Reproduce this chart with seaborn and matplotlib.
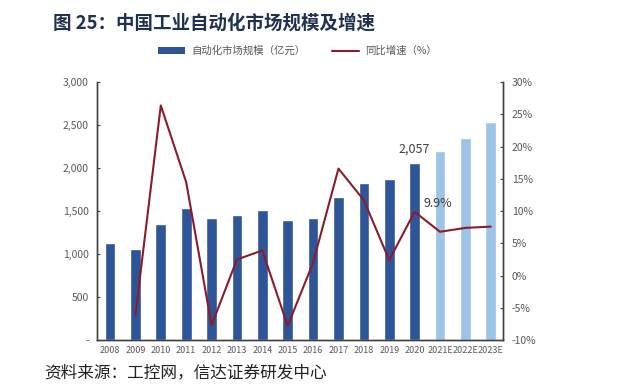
import numpy as np
import pandas as pd
import matplotlib
matplotlib.use("Agg")
import matplotlib.pyplot as plt
import seaborn as sns
from matplotlib.patches import Patch
from matplotlib.lines import Line2D
from matplotlib.ticker import FuncFormatter

# data
years = ["2008", "2009", "2010", "2011", "2012", "2013", "2014", "2015", "2016",
         "2017", "2018", "2019", "2020", "2021E", "2022E", "2023E"]
market_size = [1130, 1060, 1350, 1540, 1420, 1455, 1510, 1395, 1420,
               1660, 1833, 1876, 2057, 2198, 2352, 2535]
growth = [np.nan, -6.1, 26.4, 14.5, -7.7, 2.5, 3.9, -7.8, 2.0,
          16.6, 11.7, 2.4, 9.9, 6.8, 7.4, 7.6]
is_forecast = [y.endswith("E") for y in years]

sns.set_theme(style="white")
plt.rcParams["font.family"] = ["Noto Sans CJK SC", "DejaVu Sans"]

dark_blue = "#2e5597"
light_blue = "#9dc3e6"
line_red = "#8b1c2c"
grey = "#595959"

df = pd.DataFrame({"year": years, "size": market_size, "growth": growth,
                   "forecast": is_forecast})

fig = plt.figure(figsize=(6.2, 3.86), dpi=100)
ax = fig.add_axes([0.157, 0.119, 0.655, 0.668])

sns.barplot(data=df, x="year", y="size", hue="forecast",
            palette={False: dark_blue, True: light_blue}, saturation=1,
            width=0.42, dodge=False, legend=False, ax=ax)
ax.set_ylim(0, 3000)
ax.set_yticks(np.arange(0, 3001, 500))
ax.yaxis.set_major_formatter(FuncFormatter(lambda v, p: "-" if v == 0 else f"{v:,.0f}"))
ax.set_xlim(-0.5, len(years) - 0.5)
ax.set_xlabel("")
ax.set_ylabel("")

ax2 = ax.twinx()
pos = np.arange(len(years))
sns.lineplot(x=pos[1:], y=growth[1:], color=line_red, linewidth=1.5, ax=ax2)
ax2.set_ylim(-10, 30)
ax2.set_yticks(np.arange(-10, 31, 5))
ax2.yaxis.set_major_formatter(FuncFormatter(lambda v, p: f"{v:.0f}%"))
ax2.set_xlim(-0.5, len(years) - 0.5)

for a in (ax, ax2):
    a.spines["top"].set_visible(False)
    for s in ("left", "right", "bottom"):
        a.spines[s].set_color("#404040")
        a.spines[s].set_linewidth(1.0)
    a.tick_params(labelsize=6.5, labelcolor=grey, colors="#404040", length=3, width=0.8)
ax.tick_params(axis="x", length=0, pad=4)
ax.set_xticks(pos)
ax.set_xticklabels(years)
ax.set_xticks(pos[:-1] + 0.5, minor=True)
ax.tick_params(axis="x", which="minor", length=3, width=0.8, color="#404040", direction="out")
for lbl in ax.get_yticklabels() + ax2.get_yticklabels():
    lbl.set_fontsize(7.5)
ax.tick_params(axis="y", direction="in", length=2, pad=6)
ax2.tick_params(axis="y", direction="in", length=2, pad=6)

i2020 = years.index("2020")
ax.text(i2020, 2220, f"{market_size[i2020]:,}",
        fontsize=9, color="#404040", ha="center", va="center")
ax2.text(i2020 + 0.9, 11.2, f"{growth[i2020]:.1f}%",
         fontsize=9, color="#404040", ha="center", va="center")

fig.text(0.085, 0.94, "图 25：中国工业自动化市场规模及增速", fontsize=13.3,
         fontweight="bold", color="#1f3150", ha="left", va="center")

handles = [Patch(facecolor=dark_blue, edgecolor="none"),
           Line2D([0], [0], color=line_red, linewidth=1.5)]
fig.legend(handles, ["自动化市场规模（亿元）", "同比增速（%）"], loc="center",
           bbox_to_anchor=(0.48, 0.868), ncol=2, frameon=False, fontsize=7.5,
           labelcolor=grey, handlelength=2.6, handleheight=0.6, handletextpad=0.6,
           columnspacing=2.5)

fig.text(0.072, 0.035, "资料来源：工控网，信达证券研发中心", fontsize=12,
         color="#222222", ha="left", va="center", style="italic")

fig.savefig("out.png", dpi=100, facecolor="white")
